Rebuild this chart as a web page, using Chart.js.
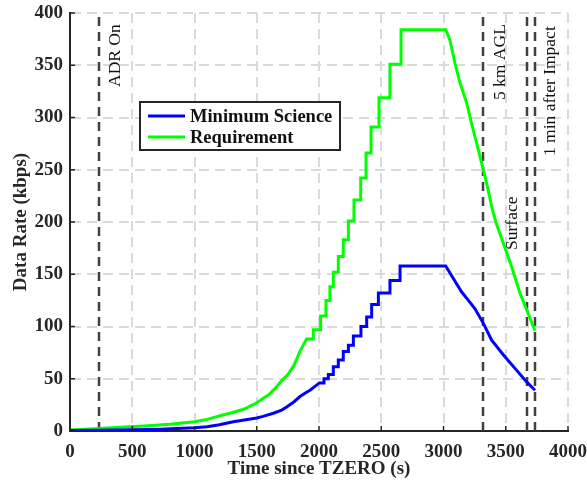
<!DOCTYPE html>
<html>
<head>
<meta charset="utf-8">
<script src="https://cdn.jsdelivr.net/npm/chart.js@4/dist/chart.umd.min.js"></script>
<style>
  html, body { margin: 0; padding: 0; background: #fff; }
  #wrap { width: 587px; height: 481px; }
</style>
</head>
<body>
<div id="wrap"><canvas id="chart" width="587" height="481"></canvas></div>
<script>
// Requirement (time s, kbps): slow growth, then staircase, flat top, fall
const reqLowT = [0, 235, 400, 600, 800, 1000, 1100, 1200, 1300, 1400, 1500, 1550, 1600, 1650, 1700, 1750, 1800, 1850, 1900];
const reqLowV = [1, 2.5, 3.5, 4.8, 6.5, 8.9, 11, 14.5, 17.5, 21, 27, 31, 35, 41, 48, 54, 63, 77, 88];
const reqStepT = [1954, 2013, 2056, 2088, 2115, 2155, 2195, 2236, 2281, 2335, 2378, 2418, 2482, 2570, 2659];
const reqStepV = [97, 110, 125, 138, 152, 167, 183, 201, 221, 242, 266, 291, 319, 351, 384];
const reqFallT = [3018, 3052, 3092, 3133, 3186, 3226, 3267, 3307, 3347, 3387, 3420, 3480, 3548, 3614, 3668, 3735];
const reqFallV = [384, 374, 352, 333, 314, 294, 275, 256, 237, 215, 200, 180, 157, 132, 116, 96];

// Minimum Science
const minLowT = [0, 235, 500, 723, 1000, 1100, 1200, 1312, 1400, 1500, 1550, 1633, 1700, 1740, 1800, 1847, 1900, 1928, 1970, 2003];
const minLowV = [0.5, 0.7, 1.2, 1.6, 3, 4, 6, 8.9, 10.5, 12.5, 14, 17, 20, 23, 28, 33, 37, 39, 43, 46];
const minStepT = [2040, 2075, 2115, 2155, 2195, 2236, 2276, 2337, 2383, 2423, 2477, 2570, 2651];
const minStepV = [50, 54, 61.5, 68, 76, 82, 91, 100, 109, 121, 132, 144, 158];
const minFallT = [3018, 3079, 3146, 3200, 3253, 3320, 3387, 3480, 3588, 3668, 3735];
const minFallV = [158, 146, 133, 125, 117, 103, 87, 73, 58, 47, 39];

// Mission events marked with dashed verticals
const eventT = [235, 3320, 3673, 3735];
const eventLabels = ['ADR On', '5 km AGL', 'Surface', '1 min after Impact'];

const xTicks = [0, 500, 1000, 1500, 2000, 2500, 3000, 3500, 4000];
const yTicks = [0, 50, 100, 150, 200, 250, 300, 350, 400];

const serif = '"Liberation Serif", "Times New Roman", serif';
const ink = '#262626';
const fontSize = 19;

// smooth part as is, staircase corners, then the falling samples
function buildSeries(lowT, lowV, stepT, stepV, fallT, fallV) {
    const pts = lowT.map((t, i) => ({ x: t, y: lowV[i] }));
    let prev = lowV[lowV.length - 1];
    stepT.forEach((t, i) => {
        pts.push({ x: t, y: prev });
        pts.push({ x: t, y: stepV[i] });
        prev = stepV[i];
    });
    fallT.forEach((t, i) => pts.push({ x: t, y: fallV[i] }));
    return pts;
}

const eventsPlugin = {
    id: 'events',
    beforeDatasetsDraw(chart) {
        const { ctx, chartArea: a, scales: { x } } = chart;
        ctx.save();
        ctx.strokeStyle = '#404040';
        ctx.lineWidth = 2.5;
        ctx.setLineDash([9, 6]);
        eventT.forEach((t) => {
            const px = Math.round(x.getPixelForValue(t));
            ctx.beginPath();
            ctx.moveTo(px, a.bottom);
            ctx.lineTo(px, a.top);
            ctx.stroke();
        });
        ctx.restore();
    },
    afterDraw(chart) {
        const { ctx, chartArea: a, scales: { x, y } } = chart;
        ctx.save();

        // inward tick marks
        ctx.strokeStyle = ink;
        ctx.lineWidth = 1.5;
        xTicks.forEach((t) => {
            const px = x.getPixelForValue(t);
            ctx.beginPath();
            ctx.moveTo(px, a.bottom);
            ctx.lineTo(px, a.bottom - 5);
            ctx.stroke();
        });
        yTicks.forEach((v) => {
            const py = y.getPixelForValue(v);
            ctx.beginPath();
            ctx.moveTo(a.left, py);
            ctx.lineTo(a.left + 5, py);
            ctx.stroke();
        });

        // rotated event labels
        ctx.fillStyle = '#111';
        ctx.font = '17.5px ' + serif;
        ctx.textBaseline = 'middle';
        const spots = [
            { dx: 16, y0: 87 },
            { dx: 17, y0: 100 },
            { dx: -15, y0: 250 },
            { dx: 15, y0: 156 },
        ];
        eventT.forEach((t, i) => {
            const px = x.getPixelForValue(t) + spots[i].dx;
            ctx.save();
            ctx.translate(px, spots[i].y0);
            ctx.rotate(-Math.PI / 2);
            ctx.textAlign = 'left';
            ctx.fillText(eventLabels[i], 0, 0);
            ctx.restore();
        });

        // legend box
        const lx = 140, ly = 102, lw = 200, lh = 48;
        ctx.fillStyle = '#fff';
        ctx.fillRect(lx, ly, lw, lh);
        ctx.strokeStyle = ink;
        ctx.lineWidth = 2;
        ctx.strokeRect(lx, ly, lw, lh);
        ctx.font = 'bold 18.5px ' + serif;
        ctx.textAlign = 'left';
        chart.data.datasets.forEach((ds, i) => {
            const ry = ly + 14 + i * 21;
            ctx.strokeStyle = ds.borderColor;
            ctx.lineWidth = 3;
            ctx.beginPath();
            ctx.moveTo(lx + 8, ry);
            ctx.lineTo(lx + 45, ry);
            ctx.stroke();
            ctx.fillStyle = '#111';
            ctx.fillText(ds.label, lx + 50, ry + 1);
        });
        ctx.restore();
    },
};

const tickFont = { family: serif, size: fontSize, weight: 'bold' };

new Chart(document.getElementById('chart'), {
    type: 'line',
    data: {
        datasets: [
            {
                label: 'Minimum Science',
                data: buildSeries(minLowT, minLowV, minStepT, minStepV, minFallT, minFallV),
                borderColor: '#0000ff',
                borderWidth: 3,
                pointRadius: 0,
                tension: 0,
            },
            {
                label: 'Requirement',
                data: buildSeries(reqLowT, reqLowV, reqStepT, reqStepV, reqFallT, reqFallV),
                borderColor: '#00ff00',
                borderWidth: 3,
                pointRadius: 0,
                tension: 0,
            },
        ],
    },
    options: {
        responsive: false,
        animation: false,
        events: [],
        layout: {
            padding: { top: 13, right: 19, left: 0, bottom: 0 },
        },
        plugins: {
            legend: { display: false },
            tooltip: { enabled: false },
        },
        scales: {
            x: {
                type: 'linear',
                min: 0,
                max: 4000,
                afterFit(scale) {
                    scale.height = 50;
                    scale.paddingLeft = 0;
                    scale.paddingRight = 0;
                },
                afterBuildTicks(scale) { scale.ticks = xTicks.map((v) => ({ value: v })); },
                ticks: {
                    color: ink,
                    font: tickFont,
                    padding: 10,
                    maxRotation: 0,
                    callback: (v) => String(v),
                },
                grid: {
                    color: '#dadada',
                    lineWidth: 2,
                    drawTicks: false,
                },
                border: { color: ink, width: 2, dash: [10, 6] },
                title: {
                    display: true,
                    text: 'Time since TZERO (s)',
                    color: ink,
                    font: tickFont,
                    padding: { top: 0, bottom: 1 },
                },
            },
            y: {
                min: 0,
                max: 400,
                afterFit(scale) {
                    scale.width = 70;
                    scale.paddingTop = 0;
                    scale.paddingBottom = 0;
                },
                afterBuildTicks(scale) { scale.ticks = yTicks.map((v) => ({ value: v })); },
                ticks: {
                    color: ink,
                    font: tickFont,
                    padding: 7,
                    callback: (v) => String(v),
                },
                grid: {
                    color: '#dadada',
                    lineWidth: 2,
                    drawTicks: false,
                },
                border: { color: ink, width: 2, dash: [10, 6] },
                title: {
                    display: true,
                    text: 'Data Rate (kbps)',
                    color: ink,
                    font: tickFont,
                    padding: { top: 10, bottom: 0 },
                },
            },
        },
    },
    plugins: [eventsPlugin],
});
</script>
</body>
</html>
